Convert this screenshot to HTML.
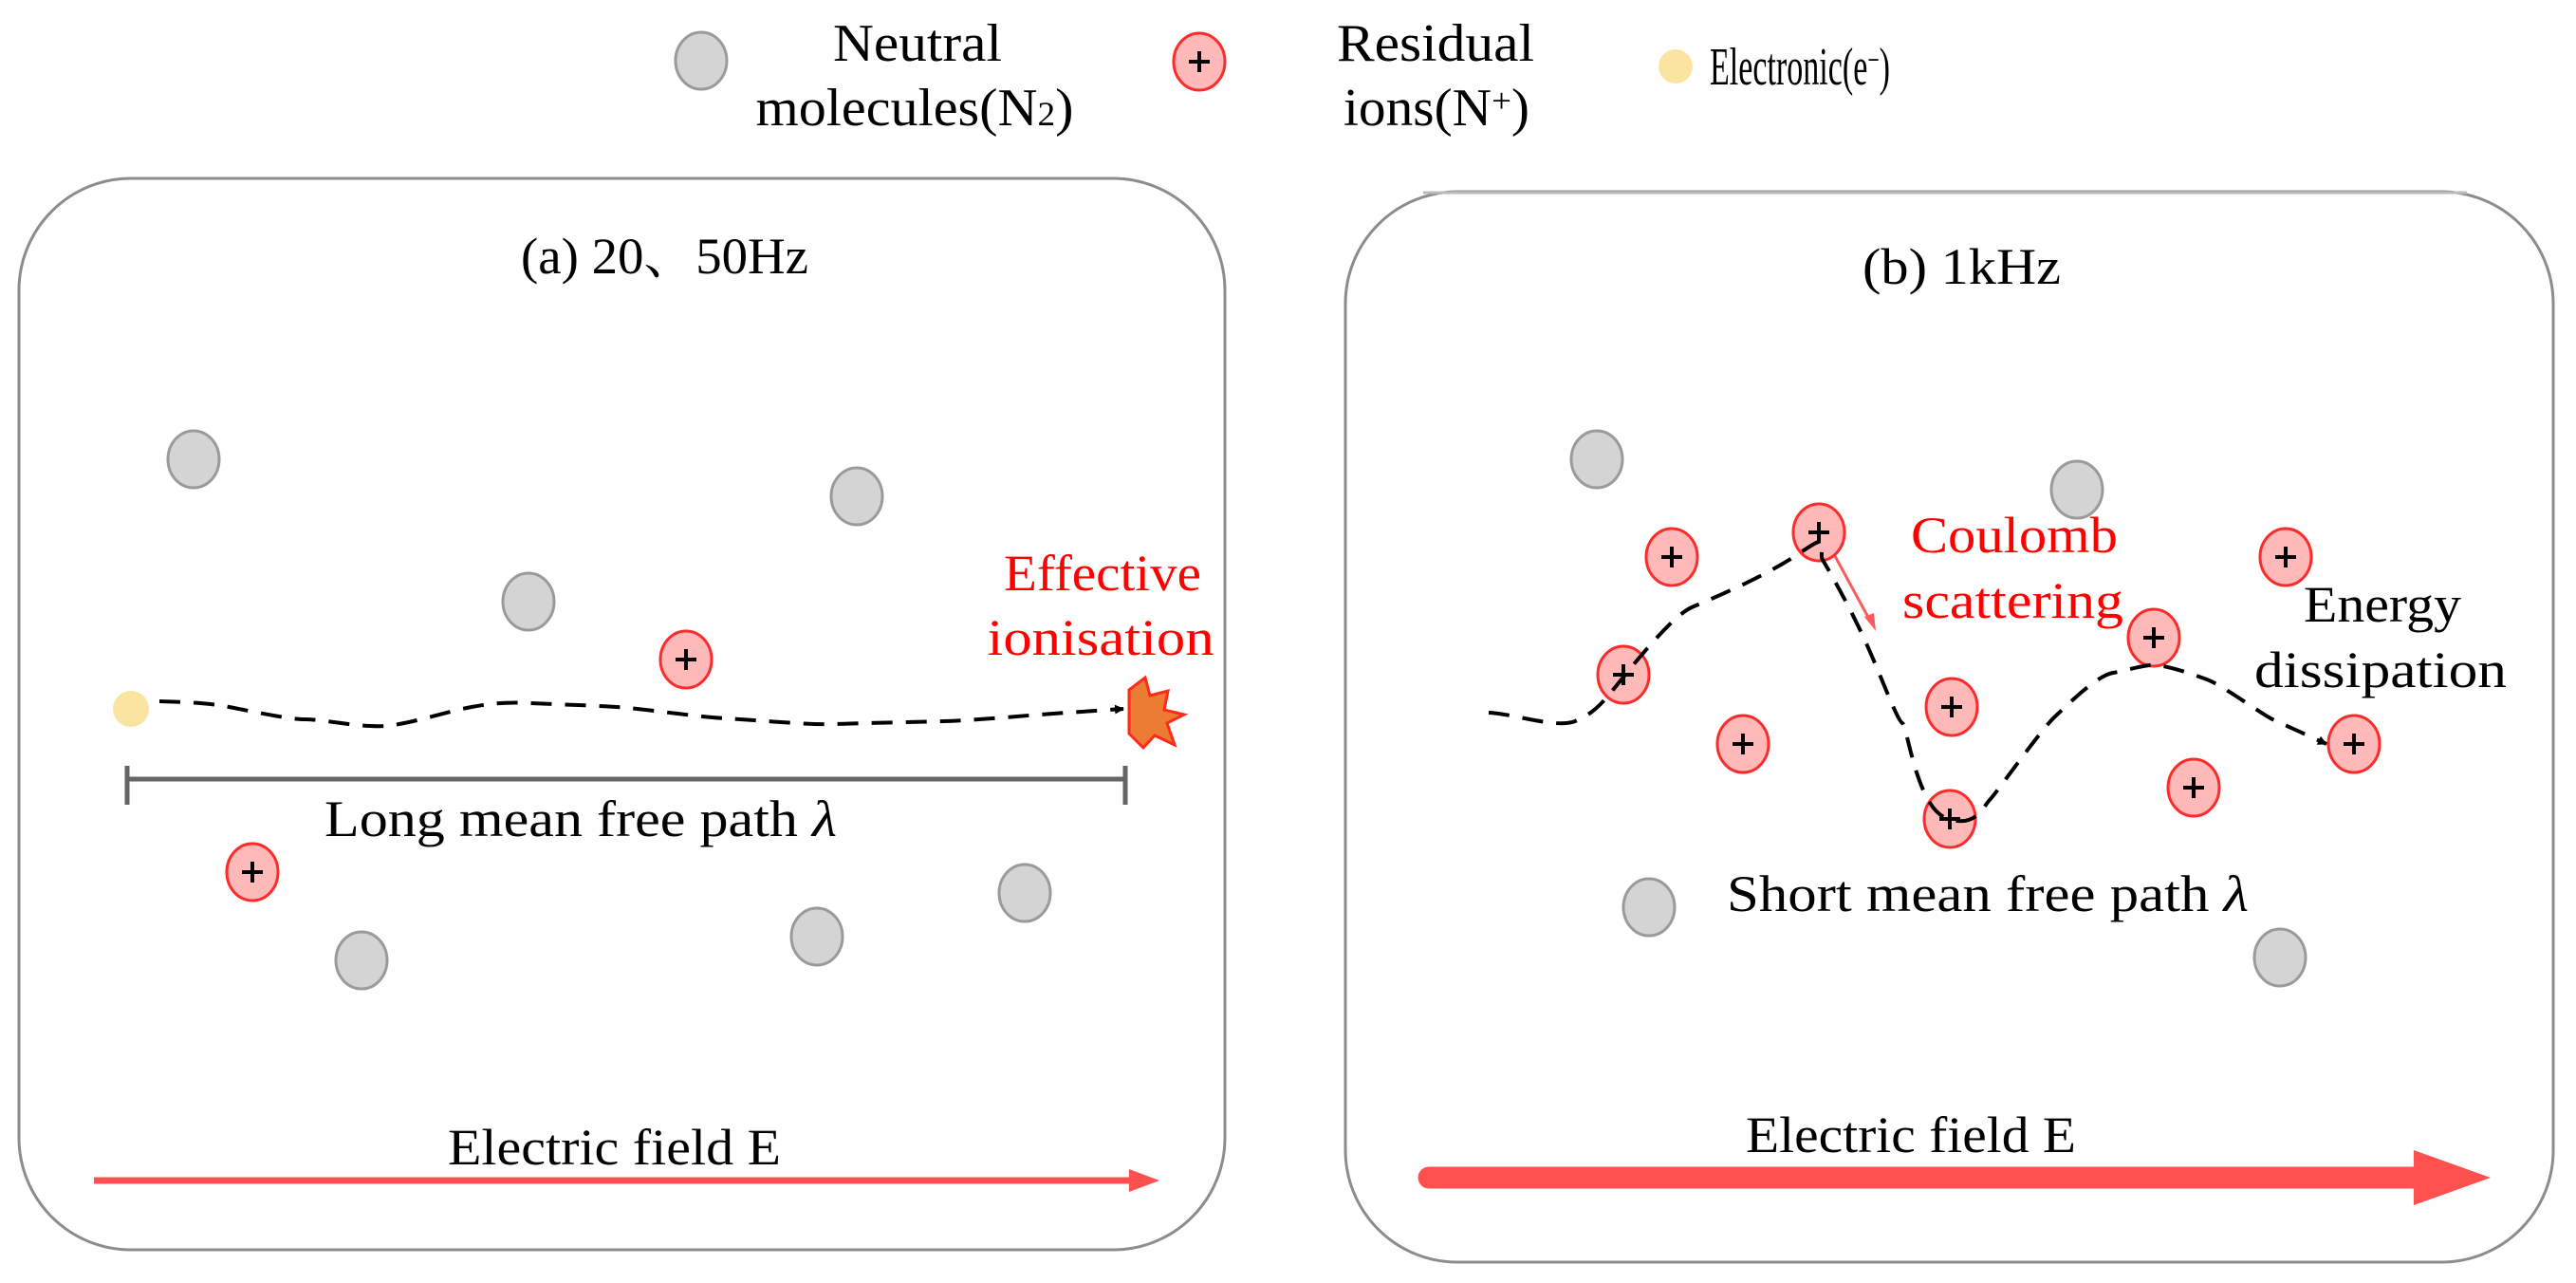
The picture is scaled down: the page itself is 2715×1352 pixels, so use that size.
<!DOCTYPE html>
<html><head><meta charset="utf-8"><style>
html,body{margin:0;padding:0;background:#fff;}
svg{display:block;}
text{font-family:"Liberation Serif","Noto Serif CJK SC",serif;}
</style></head><body>
<svg width="2715" height="1352" viewBox="0 0 2715 1352" xmlns="http://www.w3.org/2000/svg">
<defs>
<g id="gm"><ellipse cx="0" cy="0" rx="27" ry="30" fill="#d4d4d4" stroke="#9a9a9a" stroke-width="3"/></g>
<g id="ion"><ellipse cx="0" cy="0" rx="27" ry="30" fill="#ffb9b9" stroke="#ff2a2a" stroke-width="3"/><path d="M-11 0H11M0 -11V11" stroke="#000" stroke-width="4"/></g>
<marker id="ah" markerWidth="10" markerHeight="10" refX="9" refY="5" orient="auto" markerUnits="userSpaceOnUse" viewBox="0 0 10 10"><path d="M0 0L10 5L0 10z" fill="#000"/></marker>
</defs>

<!-- legend -->
<use href="#gm" x="739" y="64"/>
<text x="967" y="64" font-size="56" text-anchor="middle" textLength="178" lengthAdjust="spacingAndGlyphs">Neutral</text>
<text x="964" y="132" font-size="56" text-anchor="middle" textLength="335" lengthAdjust="spacingAndGlyphs">molecules(N<tspan font-size="36">2</tspan>)</text>
<use href="#ion" x="1264" y="65"/>
<text x="1513" y="64" font-size="56" text-anchor="middle" textLength="208" lengthAdjust="spacingAndGlyphs">Residual</text>
<text x="1514" y="132" font-size="56" text-anchor="middle" textLength="196" lengthAdjust="spacingAndGlyphs">ions(N<tspan font-size="36" dy="-14">+</tspan><tspan dy="14">)</tspan></text>
<circle cx="1766" cy="70" r="18" fill="#fbe3a0"/>
<text x="1802" y="89" font-size="56" textLength="190" lengthAdjust="spacingAndGlyphs">Electronic(e<tspan font-size="36" dy="-14">−</tspan><tspan dy="14">)</tspan></text>

<!-- left box -->
<rect x="20" y="188" width="1271" height="1129" rx="118" ry="118" fill="none" stroke="#8c8c8c" stroke-width="3"/>
<text x="549" y="288" font-size="54" textLength="303" lengthAdjust="spacingAndGlyphs">(a) 20、50Hz</text>
<use href="#gm" x="204" y="484"/>
<use href="#gm" x="903" y="523"/>
<use href="#gm" x="557" y="634"/>
<use href="#gm" x="381" y="1012"/>
<use href="#gm" x="861" y="987"/>
<use href="#gm" x="1080" y="941"/>
<use href="#ion" x="723" y="695"/>
<use href="#ion" x="266" y="919"/>
<circle cx="138" cy="747" r="19" fill="#fbe3a0"/>
<path d="M168 739 C200 740 215 741 230 743 S300 758 321 758 S380 767 406 765 S470 750 497 745 S540 740 559 741 S620 743 650 745 S730 755 765 757 S850 764 880 763 S960 761 995 760 S1080 754 1110 752 L1184 747" fill="none" stroke="#000" stroke-width="4" stroke-dasharray="22 14" marker-end="url(#ah)"/>
<polygon points="1190,727 1207,714 1212,733 1231,728 1227,748 1248,753 1230,762 1238,785 1217,775 1205,788 1190,773" fill="#ec7b33" stroke="#ff2a1a" stroke-width="3"/>
<text x="1162" y="622" font-size="54" fill="#ff0000" text-anchor="middle" textLength="208" lengthAdjust="spacingAndGlyphs">Effective</text>
<text x="1160" y="690" font-size="54" fill="#ff0000" text-anchor="middle" textLength="239" lengthAdjust="spacingAndGlyphs">ionisation</text>
<path d="M134 821H1186M134 807V848M1186 807V848" stroke="#666" stroke-width="5" fill="none"/>
<text x="342" y="881" font-size="54" textLength="540" lengthAdjust="spacingAndGlyphs">Long mean free path <tspan font-style="italic">λ</tspan></text>
<text x="472" y="1227" font-size="54" textLength="351" lengthAdjust="spacingAndGlyphs">Electric field E</text>
<path d="M99 1244H1195" stroke="#ff5050" stroke-width="7"/>
<path d="M1222 1244L1190 1232V1256z" fill="#ff5050"/>

<!-- right box -->
<rect x="1418" y="202" width="1273" height="1128" rx="118" ry="118" fill="none" stroke="#8c8c8c" stroke-width="3"/>
<path d="M1500 203H2600" stroke="#bbb" stroke-width="3"/>
<text x="1963" y="299" font-size="54" textLength="209" lengthAdjust="spacingAndGlyphs">(b) 1kHz</text>
<use href="#gm" x="1683" y="484"/>
<use href="#gm" x="2189" y="516"/>
<use href="#gm" x="1738" y="956"/>
<use href="#gm" x="2403" y="1009"/>
<use href="#ion" x="1762" y="587"/>
<use href="#ion" x="1917" y="561"/>
<use href="#ion" x="2409" y="587"/>
<use href="#ion" x="1711" y="711"/>
<use href="#ion" x="1837" y="784"/>
<use href="#ion" x="2057" y="745"/>
<use href="#ion" x="2270" y="672"/>
<use href="#ion" x="2055" y="863"/>
<use href="#ion" x="2312" y="830"/>
<use href="#ion" x="2481" y="784"/>
<path d="M1569 751 C1595 752 1640 768 1660 760 S1690 739 1700 727 S1760 650 1783 640 S1860 608 1898 582 S1915 580 1921 590 S1950 640 1967 678 S2000 760 2005 762 S2020 850 2051 862 S2090 850 2097 843 S2150 770 2166 755 S2210 712 2227 709 S2260 700 2273 701 S2310 710 2326 716 S2380 750 2395 758 L2452 784" fill="none" stroke="#000" stroke-width="4" stroke-dasharray="22 14" marker-end="url(#ah)"/>
<path d="M1934 586L1972 656" stroke="#ff5a5a" stroke-width="3"/>
<path d="M1977 665L1965 650L1975 646z" fill="#ff5a5a"/>
<text x="2014" y="582" font-size="54" fill="#ff0000" textLength="218" lengthAdjust="spacingAndGlyphs">Coulomb</text>
<text x="2005" y="651" font-size="54" fill="#ff0000" textLength="233" lengthAdjust="spacingAndGlyphs">scattering</text>
<text x="2428" y="655" font-size="54" textLength="166" lengthAdjust="spacingAndGlyphs">Energy</text>
<text x="2376" y="724" font-size="54" textLength="266" lengthAdjust="spacingAndGlyphs">dissipation</text>
<text x="1820" y="960" font-size="54" textLength="550" lengthAdjust="spacingAndGlyphs">Short mean free path <tspan font-style="italic">λ</tspan></text>
<text x="1840" y="1214" font-size="54" textLength="348" lengthAdjust="spacingAndGlyphs">Electric field E</text>
<path d="M1506 1241H2550" stroke="#ff5050" stroke-width="23" stroke-linecap="round"/>
<path d="M2625 1241L2544 1212V1270z" fill="#ff5050"/>
</svg>
</body></html>
